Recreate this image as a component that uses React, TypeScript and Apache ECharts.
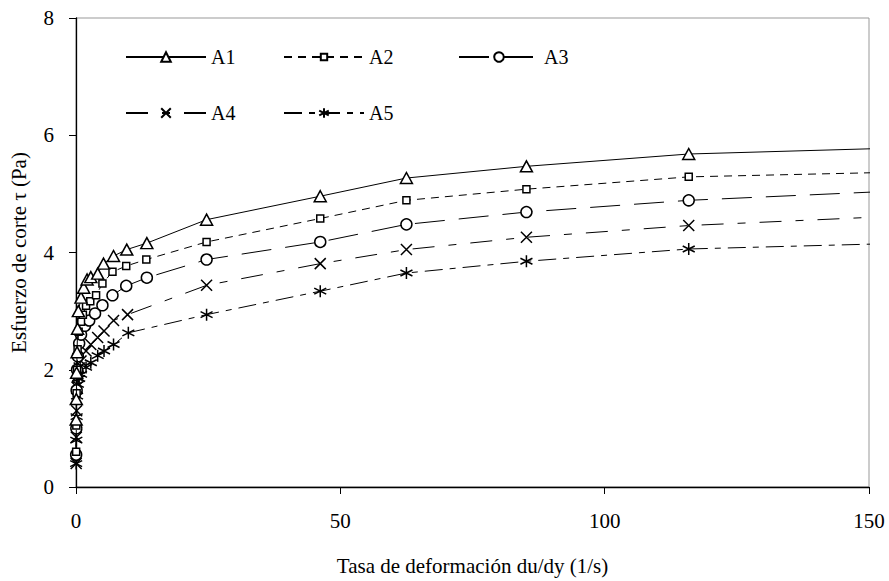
import React, { useEffect, useRef } from "react";
import * as echarts from "echarts";

const FONT = '"Liberation Serif", "Times New Roman", serif';

const seriesNames = ["A1", "A2", "A3", "A4", "A5"];

const shearA1 = [0.03, 0.06, 0.12, 0.2, 0.3, 0.45, 0.95, 1.45, 2.1, 2.8, 4.1, 5.2, 7.1, 9.6, 13.4, 24.7, 46.2, 62.5, 85.2, 115.9, 170];
const stressA1 = [1.15, 1.5, 1.95, 2.3, 2.7, 3.0, 3.23, 3.4, 3.54, 3.58, 3.64, 3.81, 3.94, 4.05, 4.16, 4.56, 4.96, 5.27, 5.47, 5.68, 5.82];

const shearA2 = [0.03, 0.06, 0.12, 0.2, 0.3, 0.5, 0.95, 1.3, 1.9, 2.7, 3.8, 5.0, 6.9, 9.5, 13.3, 24.7, 46.2, 62.5, 85.2, 115.9, 170];
const stressA2 = [0.6, 1.05, 1.6, 2.0, 2.35, 2.65, 2.82, 2.94, 3.09, 3.17, 3.27, 3.47, 3.67, 3.77, 3.88, 4.18, 4.58, 4.89, 5.08, 5.29, 5.4];

const shearA3 = [0.03, 0.06, 0.12, 0.2, 0.35, 0.6, 0.95, 1.7, 2.5, 3.6, 5.0, 6.9, 9.5, 13.4, 24.7, 46.2, 62.5, 85.2, 115.9, 170];
const stressA3 = [0.55, 1.0, 1.65, 2.0, 2.23, 2.45, 2.6, 2.75, 2.84, 2.96, 3.1, 3.27, 3.43, 3.57, 3.88, 4.18, 4.48, 4.69, 4.89, 5.11];

const shearA4 = [0.03, 0.06, 0.12, 0.2, 0.35, 0.6, 0.95, 1.9, 2.8, 4.1, 5.3, 7.1, 9.75, 24.7, 46.2, 62.5, 85.2, 115.9, 170];
const stressA4 = [0.4, 0.85, 1.3, 1.7, 1.9, 2.03, 2.15, 2.32, 2.43, 2.55, 2.66, 2.84, 2.94, 3.44, 3.81, 4.05, 4.26, 4.46, 4.68];

const shearA5 = [0.03, 0.06, 0.12, 0.2, 0.35, 0.6, 0.95, 1.9, 2.8, 4.1, 5.3, 7.1, 9.9, 24.7, 46.2, 62.5, 85.2, 115.9, 170];
const stressA5 = [0.4, 0.8, 1.2, 1.55, 1.75, 1.85, 1.92, 2.04, 2.12, 2.24, 2.32, 2.43, 2.63, 2.94, 3.34, 3.65, 3.85, 4.06, 4.19];

const X_PATH = "path://M0,0L10,10M10,0L0,10";
const AST_PATH = "path://M5,0L5,10M0.7,2.5L9.3,7.5M0.7,7.5L9.3,2.5";

const zip = (xs: number[], ys: number[]) => xs.map((x, i) => [x, ys[i]]);

export default function App() {
  const ref = useRef<HTMLDivElement>(null);
  useEffect(() => {
    if (!ref.current) return;
    const chart = echarts.init(ref.current, undefined, { renderer: "svg" });
    const styles: any[] = [
      { data: zip(shearA1, stressA1), symbol: "triangle", symbolSize: [12, 11], dash: "solid", fill: "#fff" },
      { data: zip(shearA2, stressA2), symbol: "rect", symbolSize: [7, 7], dash: [8, 6], fill: "#fff" },
      { data: zip(shearA3, stressA3), symbol: "circle", symbolSize: 11, dash: [30, 14], fill: "#fff" },
      { data: zip(shearA4, stressA4), symbol: X_PATH, symbolSize: 11, dash: [22, 14, 8, 14], fill: "none" },
      { data: zip(shearA5, stressA5), symbol: AST_PATH, symbolSize: 12, dash: [18, 7, 6, 7], fill: "none" },
    ];
    const series = styles.map((s, i) => ({
      name: seriesNames[i],
      type: "line",
      data: s.data,
      symbol: s.symbol,
      symbolSize: s.symbolSize,
      showSymbol: true,
      clip: true,
      z: 10 - i,
      lineStyle: { color: "#000", width: 1, type: s.dash },
      itemStyle: { color: s.fill, borderColor: "#000", borderWidth: 1.5 },
      emphasis: { disabled: true },
    }));
    const legendBase = {
      orient: "horizontal",
      itemWidth: 80,
      itemHeight: 12,
      textStyle: { fontFamily: FONT, fontSize: 20, color: "#000" },
      selectedMode: false,
    };
    const row1 = 42;
    const row2 = 98;
    chart.setOption({
      animation: false,
      backgroundColor: "#fff",
      textStyle: { fontFamily: FONT },
      grid: {
        left: 75, right: 20, top: 18, bottom: 93,
        show: true, borderColor: "#999", borderWidth: 1, backgroundColor: "transparent",
      },
      legend: [
        { ...legendBase, left: 120, top: row1, data: ["A1"] },
        { ...legendBase, left: 278, top: row1, data: ["A2"], itemHeight: 8 },
        { ...legendBase, left: 453, top: row1, data: ["A3"] },
        { ...legendBase, left: 120, top: row2, data: ["A4"] },
        { ...legendBase, left: 278, top: row2, data: ["A5"] },
      ],
      xAxis: {
        type: "value", min: 0, max: 150, interval: 50,
        axisLine: { show: true, onZero: false, lineStyle: { color: "#000", width: 1.3 } },
        axisTick: { show: true, length: 7, lineStyle: { color: "#000" } },
        splitLine: { show: false },
        axisLabel: { margin: 23, color: "#000", fontFamily: FONT, fontSize: 21 },
        name: "Tasa de deformación du/dy (1/s)",
        nameLocation: "middle", nameGap: 68,
        nameTextStyle: { fontFamily: FONT, fontSize: 21, color: "#000" },
      },
      yAxis: {
        type: "value", min: 0, max: 8, interval: 2,
        axisLine: { show: true, onZero: false, lineStyle: { color: "#000", width: 1.3 } },
        axisTick: { show: true, length: 7, lineStyle: { color: "#000" } },
        splitLine: { show: false },
        axisLabel: { margin: 22, color: "#000", fontFamily: FONT, fontSize: 21 },
        name: "Esfuerzo de corte τ (Pa)",
        nameLocation: "middle", nameGap: 47,
        nameTextStyle: { fontFamily: FONT, fontSize: 21, color: "#000" },
      },
      series,
    });
    return () => chart.dispose();
  }, []);
  return <div ref={ref} style={{ width: 889, height: 581, position: "absolute", left: 0, top: 0 }} />;
}
